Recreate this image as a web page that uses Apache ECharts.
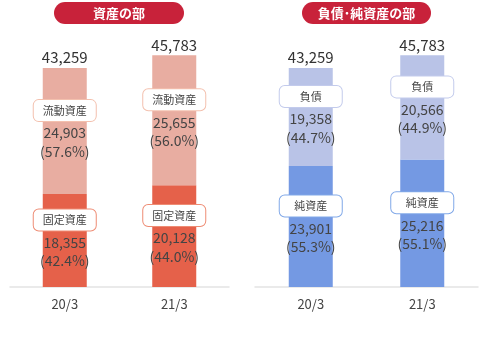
<!DOCTYPE html>
<html><head><meta charset="utf-8">
<script src="https://cdn.jsdelivr.net/npm/echarts@6/dist/echarts.min.js"></script>
<style>html,body{margin:0;padding:0;background:#fff}#c{width:487px;height:338px}</style>
</head><body><div id="c"></div>
<script>
const categories = ['20/3', '21/3'];
const currentAssets = [24903, 25655];
const currentAssetsPct = [57.6, 56.0];
const fixedAssets = [18355, 20128];
const fixedAssetsPct = [42.4, 44.0];
const totalAssets = [43259, 45783];
const liabilities = [19358, 20566];
const liabilitiesPct = [44.7, 44.9];
const netAssets = [23901, 25216];
const netAssetsPct = [55.3, 55.1];
const totalLiabNet = [43259, 45783];

const FONT = '"Noto Sans CJK JP", "Noto Sans", sans-serif';
const fmt = v => v.toLocaleString('en-US');

function richFor(border) {
  return {
    p: { width: 62, height: 21, lineHeight: 21, align: 'center', backgroundColor: '#fff', borderColor: border, borderWidth: 1, borderRadius: 5, fontSize: 11, color: '#444', fontFamily: FONT },
    v: { fontSize: 14, color: '#444', lineHeight: 20, padding: [4, 0, 0, 0], fontFamily: FONT },
    q: { fontSize: 14, color: '#444', lineHeight: 21, fontFamily: FONT }
  };
}
function segSeries(name, values, pcts, xi, color, border) {
  return {
    type: 'bar', name, xAxisIndex: xi, yAxisIndex: xi, stack: 's' + xi, barWidth: 44,
    data: values, itemStyle: { color },
    label: {
      show: true, position: 'inside',
      formatter: p => '{p|' + name + '}\n{v|' + fmt(values[p.dataIndex]) + '}\n{q|(' + pcts[p.dataIndex].toFixed(1) + '%)}',
      rich: richFor(border)
    }
  };
}
function totalSeries(totals, xi) {
  return {
    type: 'bar', xAxisIndex: xi, yAxisIndex: xi, stack: 's' + xi, barWidth: 44,
    data: totals.map(() => 0), itemStyle: { color: 'transparent' },
    label: { show: true, position: 'top', distance: 3, fontSize: 15, color: '#333', fontFamily: FONT,
      formatter: p => fmt(totals[p.dataIndex]) }
  };
}
function xAxis(gi) {
  return { type: 'category', gridIndex: gi, data: categories,
    axisLine: { lineStyle: { color: '#e4e4e4', width: 1.5 } }, axisTick: { show: false },
    axisLabel: { fontSize: 13, color: '#444', margin: 11, fontFamily: FONT } };
}
function yAxis(gi) {
  return { type: 'value', gridIndex: gi, min: 0, max: 50000, show: false, splitLine: { show: false } };
}

const chart = echarts.init(document.getElementById('c'), null, { renderer: 'canvas' });
chart.setOption({
  animation: false,
  grid: [
    { left: 10, width: 219, top: 34, bottom: 51 },
    { left: 255, width: 223, top: 34, bottom: 51 }
  ],
  xAxis: [xAxis(0), xAxis(1)],
  yAxis: [yAxis(0), yAxis(1)],
  graphic: [
    { type: 'rect', shape: { x: 54, y: 2, width: 130, height: 22, r: 11 }, style: { fill: '#c8223a' } },
    { type: 'text', x: 119, y: 13, style: { text: '資産の部', fill: '#fff', font: 'bold 13px ' + FONT, textAlign: 'center', textVerticalAlign: 'middle' } },
    { type: 'rect', shape: { x: 302, y: 2, width: 129, height: 22, r: 11 }, style: { fill: '#c8223a' } },
    { type: 'text', x: 366.5, y: 13, style: { text: '負債･純資産の部', fill: '#fff', font: 'bold 13px ' + FONT, textAlign: 'center', textVerticalAlign: 'middle' } }
  ],
  series: [
    segSeries('固定資産', fixedAssets, fixedAssetsPct, 0, '#e5614a', '#ee8c74'),
    segSeries('流動資産', currentAssets, currentAssetsPct, 0, '#e8ada1', '#f3c0ae'),
    totalSeries(totalAssets, 0),
    segSeries('純資産', netAssets, netAssetsPct, 1, '#7499e3', '#80a8e8'),
    segSeries('負債', liabilities, liabilitiesPct, 1, '#b9c3e7', '#c3cbec'),
    totalSeries(totalLiabNet, 1)
  ]
});
</script></body></html>
